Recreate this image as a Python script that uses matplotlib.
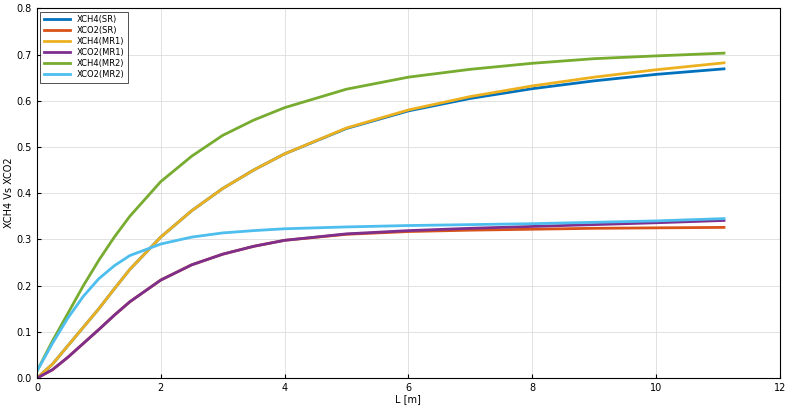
import matplotlib
matplotlib.use('Agg')
import matplotlib.pyplot as plt

L = [0, 0.25, 0.5, 0.75, 1, 1.25, 1.5, 2, 2.5, 3, 3.5, 4, 5, 6, 7, 8, 9, 10, 11.1]
xch4_sr = [0, 0.03, 0.07, 0.11, 0.15, 0.193, 0.235, 0.305, 0.362, 0.41, 0.45, 0.485, 0.54, 0.578, 0.605, 0.626, 0.643, 0.657, 0.669]
xco2_sr = [0, 0.018, 0.045, 0.075, 0.105, 0.136, 0.165, 0.212, 0.245, 0.268, 0.285, 0.298, 0.311, 0.317, 0.320, 0.322, 0.324, 0.325, 0.326]
xch4_mr1 = [0, 0.03, 0.07, 0.11, 0.15, 0.193, 0.235, 0.305, 0.362, 0.41, 0.45, 0.485, 0.541, 0.58, 0.609, 0.632, 0.651, 0.667, 0.682]
xco2_mr1 = [0, 0.018, 0.045, 0.075, 0.105, 0.136, 0.165, 0.212, 0.245, 0.268, 0.285, 0.298, 0.312, 0.319, 0.324, 0.328, 0.332, 0.336, 0.341]
xch4_mr2 = [0.015, 0.08, 0.14, 0.2, 0.255, 0.305, 0.35, 0.425, 0.48, 0.525, 0.558, 0.585, 0.625, 0.651, 0.668, 0.681, 0.691, 0.697, 0.703]
xco2_mr2 = [0.015, 0.075, 0.13, 0.177, 0.215, 0.243, 0.265, 0.29, 0.305, 0.314, 0.319, 0.323, 0.327, 0.330, 0.332, 0.334, 0.337, 0.340, 0.345]

series = [
    ('XCH4(SR)', xch4_sr, '#0072BD'),
    ('XCO2(SR)', xco2_sr, '#D95319'),
    ('XCH4(MR1)', xch4_mr1, '#EDB120'),
    ('XCO2(MR1)', xco2_mr1, '#7E2F8E'),
    ('XCH4(MR2)', xch4_mr2, '#77AC30'),
    ('XCO2(MR2)', xco2_mr2, '#4DBEEE'),
]

fig = plt.figure(figsize=(7.86, 4.15), dpi=100)
ax = fig.add_axes([0.047, 0.089, 0.945, 0.891])
for name, y, c in series:
    ax.plot(L, y, color=c, lw=2, label=name)
ax.set_xlim(0, 12)
ax.set_ylim(0, 0.8)
ax.set_xticks(range(0, 13, 2))
ax.grid(True, color='#dddddd', lw=0.6)
ax.tick_params(labelsize=7, direction='in', length=3)
ax.set_xlabel('L [m]', fontsize=7, labelpad=1)
ax.set_ylabel('XCH4 Vs XCO2', fontsize=7, labelpad=2)
leg = ax.legend(loc='upper left', fontsize=6, frameon=True, fancybox=False,
                edgecolor='black', handlelength=3.2, borderaxespad=0.4, labelspacing=0.25)
leg.get_frame().set_linewidth(0.6)
fig.savefig('out.png')
